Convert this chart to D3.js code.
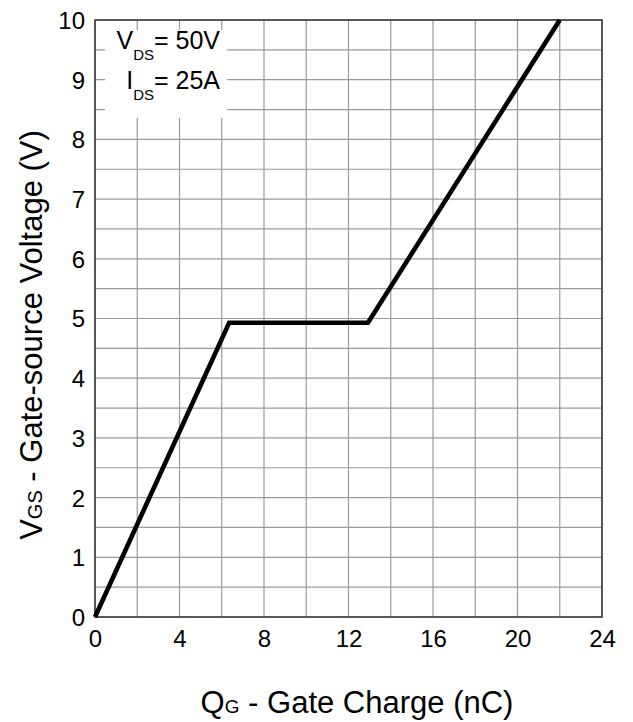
<!DOCTYPE html>
<html>
<head>
<meta charset="utf-8">
<script src="https://cdn.jsdelivr.net/npm/d3@7"></script>
<style>
  html, body { margin: 0; padding: 0; background: #fff; }
  svg { display: block; font-family: "Liberation Sans", Arial, sans-serif; }
</style>
</head>
<body>
<svg id="chart" width="633" height="722"></svg>
<script>
// ---- data ----
const gateCharge = [0, 6.35, 12.92, 22.0];      // Q_G (nC)
const gateVoltage = [0, 4.93, 4.93, 10.0];      // V_GS (V)
const xTicks = [0, 4, 8, 12, 16, 20, 24];
const yTicks = [0, 1, 2, 3, 4, 5, 6, 7, 8, 9, 10];
const xGrid = [0, 2, 4, 6, 8, 10, 12, 14, 16, 18, 20, 22, 24];
const yGrid = [0, 0.5, 1, 1.5, 2, 2.5, 3, 3.5, 4, 4.5, 5, 5.5, 6, 6.5, 7, 7.5, 8, 8.5, 9, 9.5, 10];
const noteLines = [["V", "DS", "= 50V"], ["I", "DS", "= 25A"]];

// ---- layout ----
const svg = d3.select("#chart");
const m = { left: 95, right: 602, top: 20, bottom: 617 };
const x = d3.scaleLinear().domain([0, 24]).range([m.left, m.right]);
const y = d3.scaleLinear().domain([0, 10]).range([m.bottom, m.top]);

// grid
const g = svg.append("g");
g.selectAll(".vg").data(xGrid).enter().append("line")
  .attr("x1", d => x(d)).attr("x2", d => x(d))
  .attr("y1", m.top).attr("y2", m.bottom)
  .attr("stroke", "#9a9a9a").attr("stroke-width", 1.2);
g.selectAll(".hg").data(yGrid).enter().append("line")
  .attr("x1", m.left).attr("x2", m.right)
  .attr("y1", d => y(d)).attr("y2", d => y(d))
  .attr("stroke", "#9a9a9a").attr("stroke-width", 1.2);

// annotation background box (data units)
const box = { x0: 0.47, x1: 6.25, y0: 9.83, y1: 8.36 };
svg.append("rect")
  .attr("x", x(box.x0)).attr("y", y(box.y0))
  .attr("width", x(box.x1) - x(box.x0))
  .attr("height", y(box.y1) - y(box.y0))
  .attr("fill", "#fff");

// frame
svg.append("rect")
  .attr("x", m.left).attr("y", m.top)
  .attr("width", m.right - m.left).attr("height", m.bottom - m.top)
  .attr("fill", "none").attr("stroke", "#333").attr("stroke-width", 1.5);

// curve
const pts = gateCharge.map((q, i) => [q, gateVoltage[i]]);
svg.append("path")
  .datum(pts)
  .attr("d", d3.line().x(d => x(d[0])).y(d => y(d[1])))
  .attr("fill", "none").attr("stroke", "#000").attr("stroke-width", 4.6)
  .attr("stroke-linejoin", "miter");

// axes (labels only)
const xAxis = svg.append("g").attr("transform", `translate(0,${m.bottom})`)
  .call(d3.axisBottom(x).tickValues(xTicks).tickSize(0).tickPadding(0).tickFormat(d3.format("d")));
xAxis.select(".domain").remove();
xAxis.selectAll("text").attr("dy", null).attr("y", 30)
  .attr("font-size", 24).attr("fill", "#000").attr("font-family", "Liberation Sans, Arial, sans-serif");

const yAxis = svg.append("g").attr("transform", `translate(${m.left},0)`)
  .call(d3.axisLeft(y).tickValues(yTicks).tickSize(0).tickPadding(0).tickFormat(d3.format("d")));
yAxis.select(".domain").remove();
yAxis.selectAll("text").attr("x", -10).attr("dy", "0.35em")
  .attr("font-size", 24).attr("fill", "#000").attr("font-family", "Liberation Sans, Arial, sans-serif");

// annotation text
const noteY = [9.52, 8.85];
noteLines.forEach((ln, i) => {
  const t = svg.append("text")
    .attr("x", x(5.92)).attr("y", y(noteY[i]))
    .attr("text-anchor", "end").attr("font-size", 25).attr("fill", "#000");
  t.append("tspan").text(ln[0]);
  t.append("tspan").attr("font-size", 15).attr("dy", 11).text(ln[1]);
  t.append("tspan").attr("dy", -11).text(ln[2]);
});

// x title
const xt = svg.append("text")
  .attr("x", 357).attr("y", 713)
  .attr("text-anchor", "middle").attr("font-size", 31).attr("fill", "#000");
xt.append("tspan").text("Q");
xt.append("tspan").attr("font-size", 19).text("G");
xt.append("tspan").text(" - Gate Charge (nC)");

// y title
const yt = svg.append("text")
  .attr("transform", "translate(42,335) rotate(-90)")
  .attr("text-anchor", "middle").attr("font-size", 31).attr("fill", "#000");
yt.append("tspan").text("V");
yt.append("tspan").attr("font-size", 20).text("GS");
yt.append("tspan").text(" - Gate-source Voltage (V)");
</script>
</body>
</html>
